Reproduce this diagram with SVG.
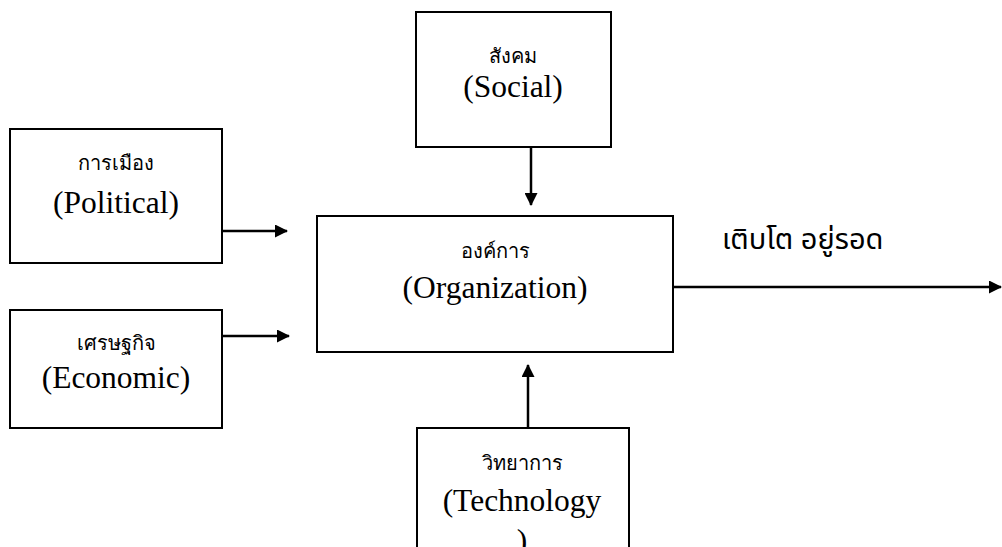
<svg xmlns="http://www.w3.org/2000/svg" width="1002" height="547" viewBox="0 0 1002 547">
<style>
.box{fill:#fff;stroke:#000;stroke-width:2}
.en{font-family:"Liberation Serif","DejaVu Serif",serif;font-size:31.5px;fill:#000;text-anchor:middle}
.th{font-family:"Liberation Serif","DejaVu Serif",serif;font-size:20px;fill:#000;text-anchor:middle}
.out{font-family:"Noto Sans Thai","Noto Sans",sans-serif;font-size:29px;fill:#000}
.ln{stroke:#000;stroke-width:2.5;fill:none}
</style>
<defs>
<marker id="ah" markerWidth="13" markerHeight="13" refX="12" refY="6.5" orient="auto" markerUnits="userSpaceOnUse" viewBox="0 0 13 13">
<path d="M0,0 L13,6.5 L0,13 Z" fill="#000"/>
</marker>
</defs>
<rect width="1002" height="547" fill="#fff"/>
<g id="connectors">
<line class="ln" x1="531" y1="148" x2="531" y2="205" marker-end="url(#ah)"/>
<line class="ln" x1="222" y1="231" x2="287" y2="231" marker-end="url(#ah)"/>
<line class="ln" x1="222" y1="336" x2="289" y2="336" marker-end="url(#ah)"/>
<line class="ln" x1="528" y1="428" x2="528" y2="365" marker-end="url(#ah)"/>
<line class="ln" x1="673" y1="287" x2="1001" y2="287" marker-end="url(#ah)"/>
</g>
<g id="social">
<rect class="box" x="416" y="12" width="195" height="135"/>
<text class="th" x="513" y="63">สังคม</text>
<text class="en" x="513" y="97">(Social)</text>
</g>
<g id="political">
<rect class="box" x="10" y="129" width="212" height="134"/>
<text class="th" x="116" y="170">การเมือง</text>
<text class="en" x="116" y="213">(Political)</text>
</g>
<g id="economic">
<rect class="box" x="10" y="310" width="212" height="118"/>
<text class="th" x="116" y="350">เศรษฐกิจ</text>
<text class="en" x="116" y="388">(Economic)</text>
</g>
<g id="organization">
<rect class="box" x="317" y="216" width="356" height="136"/>
<text class="th" x="495" y="258">องค์การ</text>
<text class="en" x="495" y="298">(Organization)</text>
</g>
<g id="technology">
<rect class="box" x="417" y="428" width="212" height="130"/>
<text class="th" x="522" y="470">วิทยาการ</text>
<text class="en" x="522" y="511">(Technology</text>
<text class="en" x="522" y="551">)</text>
</g>
<g id="output-label">
<text class="out" x="722" y="249">เติบโต อยู่รอด</text>
</g>
</svg>
